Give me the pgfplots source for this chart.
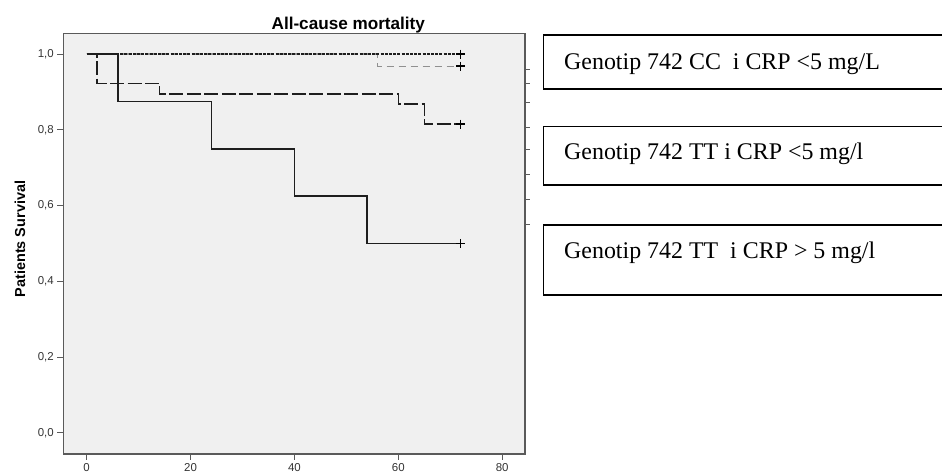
\documentclass[border=0pt]{standalone}
\usepackage{pgfplots}
\pgfplotsset{compat=1.18}
\usepackage{fontspec}
\setmainfont{Liberation Serif}
\newfontfamily\arial{Liberation Sans}
\definecolor{bgc}{HTML}{F0F0F0}
\definecolor{framec}{HTML}{5A5A5A}
\definecolor{textc}{HTML}{333333}
\definecolor{curvec}{HTML}{1E1E1E}
\definecolor{grayc}{HTML}{909090}
\begin{document}
\begin{tikzpicture}
\useasboundingbox (0,0) rectangle (942bp,475bp);
\begin{axis}[
  at={(63.3bp,21bp)}, anchor=south west,
  scale only axis, width=461.7bp, height=420.7bp,
  xmin=-4.5, xmax=84.4, ymin=-0.056, ymax=1.055,
  axis background/.style={fill=bgc},
  axis line style={draw=framec, line width=1.1bp},
  xtick={0,20,40,60,80}, ytick={0,0.2,0.4,0.6,0.8,1.0},
  xtick pos=bottom, ytick pos=left,
  tick align=outside, major tick length=6bp,
  tick style={draw=framec, line width=1bp},
  /pgf/number format/assume math mode=true,
  ticklabel style={font=\arial\fontsize{11.5}{12}\selectfont, text=textc},
  yticklabel style={/pgf/number format/.cd, fixed, fixed zerofill, precision=1, use comma},
  xticklabel style={/pgf/number format/.cd, fixed, precision=0},
  clip=false,
]
% Genotip 742 CC, CRP <5 (grey dashed)
\addplot[const plot, grayc, line width=1.4bp, dash pattern=on 7bp off 5bp]
  coordinates {(0,1.0) (56,0.968) (72,0.968)};
% short-dashed black at 1.0
\addplot[const plot, curvec, line width=1.3bp, dash pattern=on 3bp off 1.2bp]
  coordinates {(0,1.0) (72,1.0)};
% long-dashed black
\addplot[const plot, curvec, line width=1.4bp, dash pattern=on 14bp off 3.5bp]
  coordinates {(0,1.0) (2,0.923) (14,0.895) (60,0.868) (65,0.815) (72,0.815)};
% solid black
\addplot[const plot, curvec, line width=1.5bp]
  coordinates {(0,1.0) (6,0.875) (24,0.75) (40,0.625) (54,0.5) (72,0.5)};
% censoring marks
\addplot[only marks, mark=+, mark size=4.5bp, black, mark options={line width=1.7bp}]
  coordinates {(72,1.0) (72,0.968) (72,0.815) (72,0.5)};
\end{axis}
% stray right-side ticks
\begin{axis}[
  at={(63.3bp,21bp)}, anchor=south west,
  scale only axis, width=461.7bp, height=420.7bp,
  xmin=-4.5, xmax=84.4, ymin=-0.056, ymax=1.055,
  hide x axis, axis y line*=right, axis line style={draw=none},
  ytick={0.9596,0.9226,0.8714,0.8059,0.7473,0.6826,0.6166,0.5511},
  yticklabels={}, tick align=outside, major tick length=4.5bp,
  tick style={draw=framec, line width=1bp},
]
\addplot[draw=none] coordinates {(0,0.5)};
\end{axis}
\node[anchor=base, font=\arial\bfseries\fontsize{17.2}{19}\selectfont, text=black] at (348.3bp,445.7bp) {All-cause mortality};
\node[anchor=base, rotate=90, font=\arial\bfseries\fontsize{14.5}{16}\selectfont, text=black] at (25bp,236bp) {Patients Survival};
% text boxes
\draw[line width=1.6bp, black] (950bp,440bp) -- (543.3bp,440bp) -- (543.3bp,385.7bp) -- (950bp,385.7bp);
\draw[line width=1.6bp, black] (950bp,348.3bp) -- (543.3bp,348.3bp) -- (543.3bp,290bp) -- (950bp,290bp);
\draw[line width=1.6bp, black] (950bp,250bp) -- (543.3bp,250bp) -- (543.3bp,180bp) -- (950bp,180bp);
\node[anchor=base west, inner sep=0pt, font=\fontsize{24}{26}\selectfont] at (564bp,405.7bp) {Genotip 742 CC\ \ i CRP <5 mg/L};
\node[anchor=base west, inner sep=0pt, font=\fontsize{24}{26}\selectfont] at (564bp,315.7bp) {Genotip 742 TT i CRP <5 mg/l};
\node[anchor=base west, inner sep=0pt, font=\fontsize{24}{26}\selectfont] at (564bp,216.7bp) {Genotip 742 TT\ \ i CRP > 5 mg/l};
\end{tikzpicture}
\end{document}
